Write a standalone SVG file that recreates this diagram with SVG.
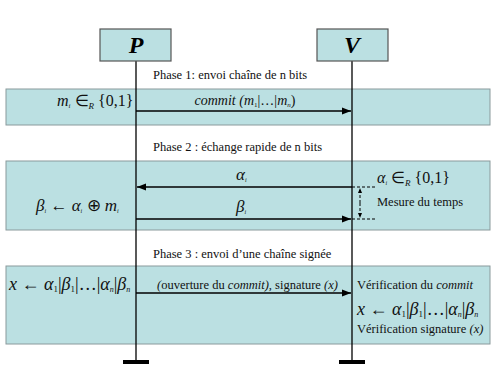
<svg xmlns="http://www.w3.org/2000/svg" width="500" height="375" viewBox="0 0 500 375">
<style>
.band{fill:#bbe0e2;stroke:#8a9a9c;stroke-width:1}
.actor{fill:#bbe0e2;stroke:#555;stroke-width:1.2}
.life{stroke:#000;stroke-width:1.3;fill:none}
.msg{stroke:#000;stroke-width:1.3;fill:none}
.dash{stroke:#000;stroke-width:1;stroke-dasharray:3,2;fill:none}
.end{stroke:#000;stroke-width:4}
.t{font-family:"Liberation Serif",serif;font-size:12.5px;fill:#111}
.m{font-family:"Liberation Serif",serif;font-style:italic;fill:#111}
.act{font-family:"Liberation Serif",serif;font-style:italic;font-weight:bold;font-size:24px;fill:#000}
</style>
<defs>
<marker id="ah" viewBox="0 0 10 10" refX="10" refY="5" markerWidth="7" markerHeight="7" orient="auto">
<path d="M0,1 L10,5 L0,9 Z" fill="#000"/>
</marker>
<marker id="sh" viewBox="0 0 10 10" refX="10" refY="5" markerWidth="5" markerHeight="5" orient="auto">
<path d="M0,1 L10,5 L0,9 Z" fill="#000"/>
</marker>
</defs>

<g id="bands">
<rect class="band" x="6" y="89" width="484" height="36"/>
<rect class="band" x="6" y="161" width="484" height="69"/>
<rect class="band" x="6" y="266" width="484" height="78"/>
</g>

<g id="connectors">
<line class="life" x1="136" y1="61" x2="136" y2="362"/>
<line class="life" x1="352" y1="61" x2="352" y2="362"/>
<line class="msg" x1="136" y1="111" x2="351" y2="111" marker-end="url(#ah)"/>
<line class="msg" x1="352" y1="187" x2="137" y2="187" marker-end="url(#ah)"/>
<line class="msg" x1="136" y1="219" x2="351" y2="219" marker-end="url(#ah)"/>
<line class="msg" x1="136" y1="293" x2="351" y2="293" marker-end="url(#ah)"/>
<line class="dash" x1="352" y1="187" x2="375" y2="187"/>
<line class="dash" x1="352" y1="219" x2="375" y2="219"/>
<line class="dash" x1="360" y1="203" x2="360" y2="188" marker-end="url(#sh)"/>
<line class="dash" x1="360" y1="203" x2="360" y2="218" marker-end="url(#sh)"/>
<line class="end" x1="123" y1="362" x2="149" y2="362"/>
<line class="end" x1="339" y1="362" x2="365" y2="362"/>
</g>

<g id="P">
<rect class="actor" x="100" y="29" width="71" height="32"/>
<text class="act" x="136" y="53" text-anchor="middle">P</text>
</g>
<g id="V">
<rect class="actor" x="317" y="29" width="71" height="32"/>
<text class="act" x="352" y="53" text-anchor="middle">V</text>
</g>

<g id="phase1">
<text class="t" x="153" y="79">Phase 1: envoi chaîne de n bits</text>
<text class="m" x="57" y="106" font-size="16">m<tspan font-size="7" dy="2">i</tspan><tspan dy="-2" font-style="normal"> ∈</tspan><tspan font-size="9" dy="3">R</tspan><tspan dy="-3" font-style="normal"> {0,1}</tspan></text>
<text class="m" x="245" y="105" font-size="14" text-anchor="middle">commit (m<tspan font-size="7" dy="2" font-style="normal">1</tspan><tspan dy="-2" font-style="normal">|…|</tspan>m<tspan font-size="7" dy="2">n</tspan><tspan dy="-2" font-style="normal">)</tspan></text>
</g>

<g id="phase2">
<text class="t" x="153" y="151">Phase 2 : échange rapide de n bits</text>
<text class="m" x="236" y="180" font-size="17">α<tspan font-size="6" dy="2">i</tspan></text>
<text class="m" x="236" y="212" font-size="17">β<tspan font-size="6" dy="2">i</tspan></text>
<text class="m" x="36" y="211" font-size="17">β<tspan font-size="6" dy="2">i</tspan><tspan dy="-2" font-style="normal"> ← </tspan>α<tspan font-size="6" dy="2">i</tspan><tspan dy="-2" font-style="normal"> ⊕ </tspan>m<tspan font-size="6" dy="2">i</tspan></text>
<text class="m" x="377" y="183" font-size="16">α<tspan font-size="6" dy="2">i</tspan><tspan dy="-2" font-style="normal"> ∈</tspan><tspan font-size="9" dy="3">R</tspan><tspan dy="-3" font-style="normal"> {0,1}</tspan></text>
<text class="t" x="377" y="206">Mesure du temps</text>
</g>

<g id="phase3">
<text class="t" x="153" y="258">Phase 3 : envoi d’une chaîne signée</text>
<text class="m" x="9" y="290" font-size="18">x<tspan font-style="normal"> ← </tspan>α<tspan font-size="9" dy="2" font-style="normal">1</tspan><tspan dy="-2" font-style="normal">|</tspan>β<tspan font-size="9" dy="2" font-style="normal">1</tspan><tspan dy="-2" font-style="normal">|…|</tspan>α<tspan font-size="8" dy="2">n</tspan><tspan dy="-2" font-style="normal">|</tspan>β<tspan font-size="8" dy="2">n</tspan></text>
<text class="t" x="157" y="289"><tspan font-style="italic">(</tspan>ouverture du <tspan font-style="italic">commit),</tspan> signature <tspan font-style="italic">(x)</tspan></text>
<text class="t" x="357" y="289">Vérification du <tspan font-style="italic">commit</tspan></text>
<text class="m" x="357" y="315" font-size="18">x<tspan font-style="normal"> ← </tspan>α<tspan font-size="9" dy="2" font-style="normal">1</tspan><tspan dy="-2" font-style="normal">|</tspan>β<tspan font-size="9" dy="2" font-style="normal">1</tspan><tspan dy="-2" font-style="normal">|…|</tspan>α<tspan font-size="8" dy="2">n</tspan><tspan dy="-2" font-style="normal">|</tspan>β<tspan font-size="8" dy="2">n</tspan></text>
<text class="t" x="357" y="333">Vérification signature <tspan font-style="italic">(x)</tspan></text>
</g>
</svg>
